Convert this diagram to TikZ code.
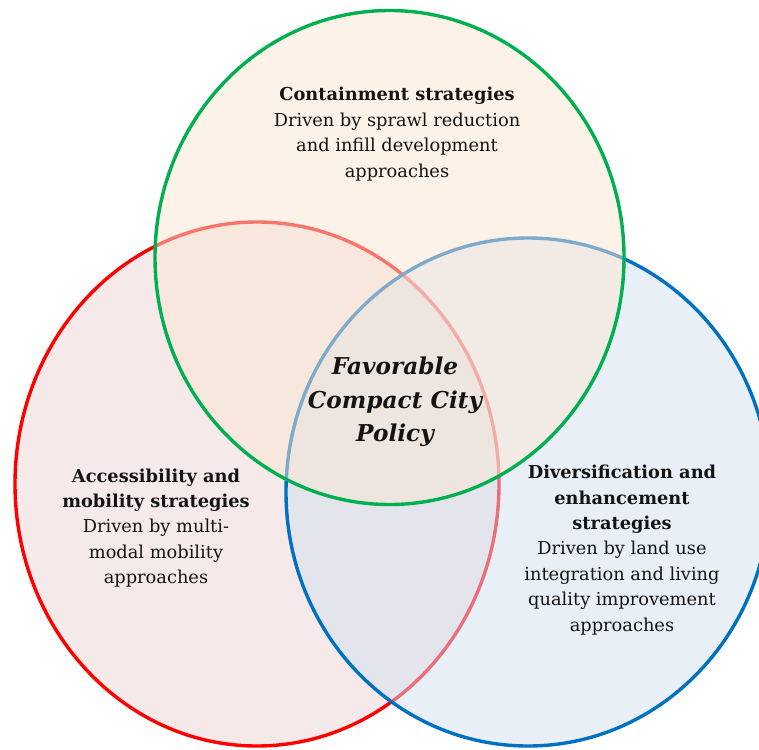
\documentclass[tikz,border=0pt]{standalone}
\usepackage{fontspec}
\setmainfont{DejaVu Serif}
\definecolor{gline}{RGB}{0,176,80}
\definecolor{rline}{RGB}{255,0,0}
\definecolor{bline}{RGB}{0,112,192}
\definecolor{gfill}{RGB}{251,231,211}
\definecolor{rfill}{RGB}{237,213,213}
\definecolor{bfill}{RGB}{213,225,241}
\definecolor{txt}{RGB}{20,20,20}
\tikzset{
  venn/.style={line width=3.4pt, fill opacity=0.5, draw opacity=1},
  lbl/.style={align=center, inner sep=0pt, text=txt, font=\fontsize{17.8}{25.4}\selectfont},
  ctr/.style={align=center, inner sep=0pt, text=txt, font=\fontsize{23.2}{33.5}\selectfont\bfseries\itshape}
}
\begin{document}
\begin{tikzpicture}[x=1pt,y=-1pt]
\useasboundingbox (0,0) rectangle (759,749);
\fill[white] (0,0) rectangle (759,749);
\draw[venn, draw=rline, fill=rfill] (257,484) ellipse [x radius=242, y radius=262];
\draw[venn, draw=bline, fill=bfill] (528,492) ellipse [x radius=242, y radius=254];
\draw[venn, draw=gline, fill=gfill] (389.5,257.5) ellipse [x radius=234.5, y radius=247];
\node[lbl] (top) at (397,134) {\textbf{Containment strategies}\\Driven by sprawl reduction\\and infill development\\approaches};
\node[ctr] (mid) at (395,402) {Favorable\\Compact City\\Policy};
\node[lbl] (left) at (156,528) {\textbf{Accessibility and}\\\textbf{mobility strategies}\\Driven by multi-\\modal mobility\\approaches};
\node[lbl] (right) at (622,550) {\textbf{Diversification and}\\\textbf{enhancement}\\\textbf{strategies}\\Driven by land use\\integration and living\\quality improvement\\approaches};
\end{tikzpicture}
\end{document}
